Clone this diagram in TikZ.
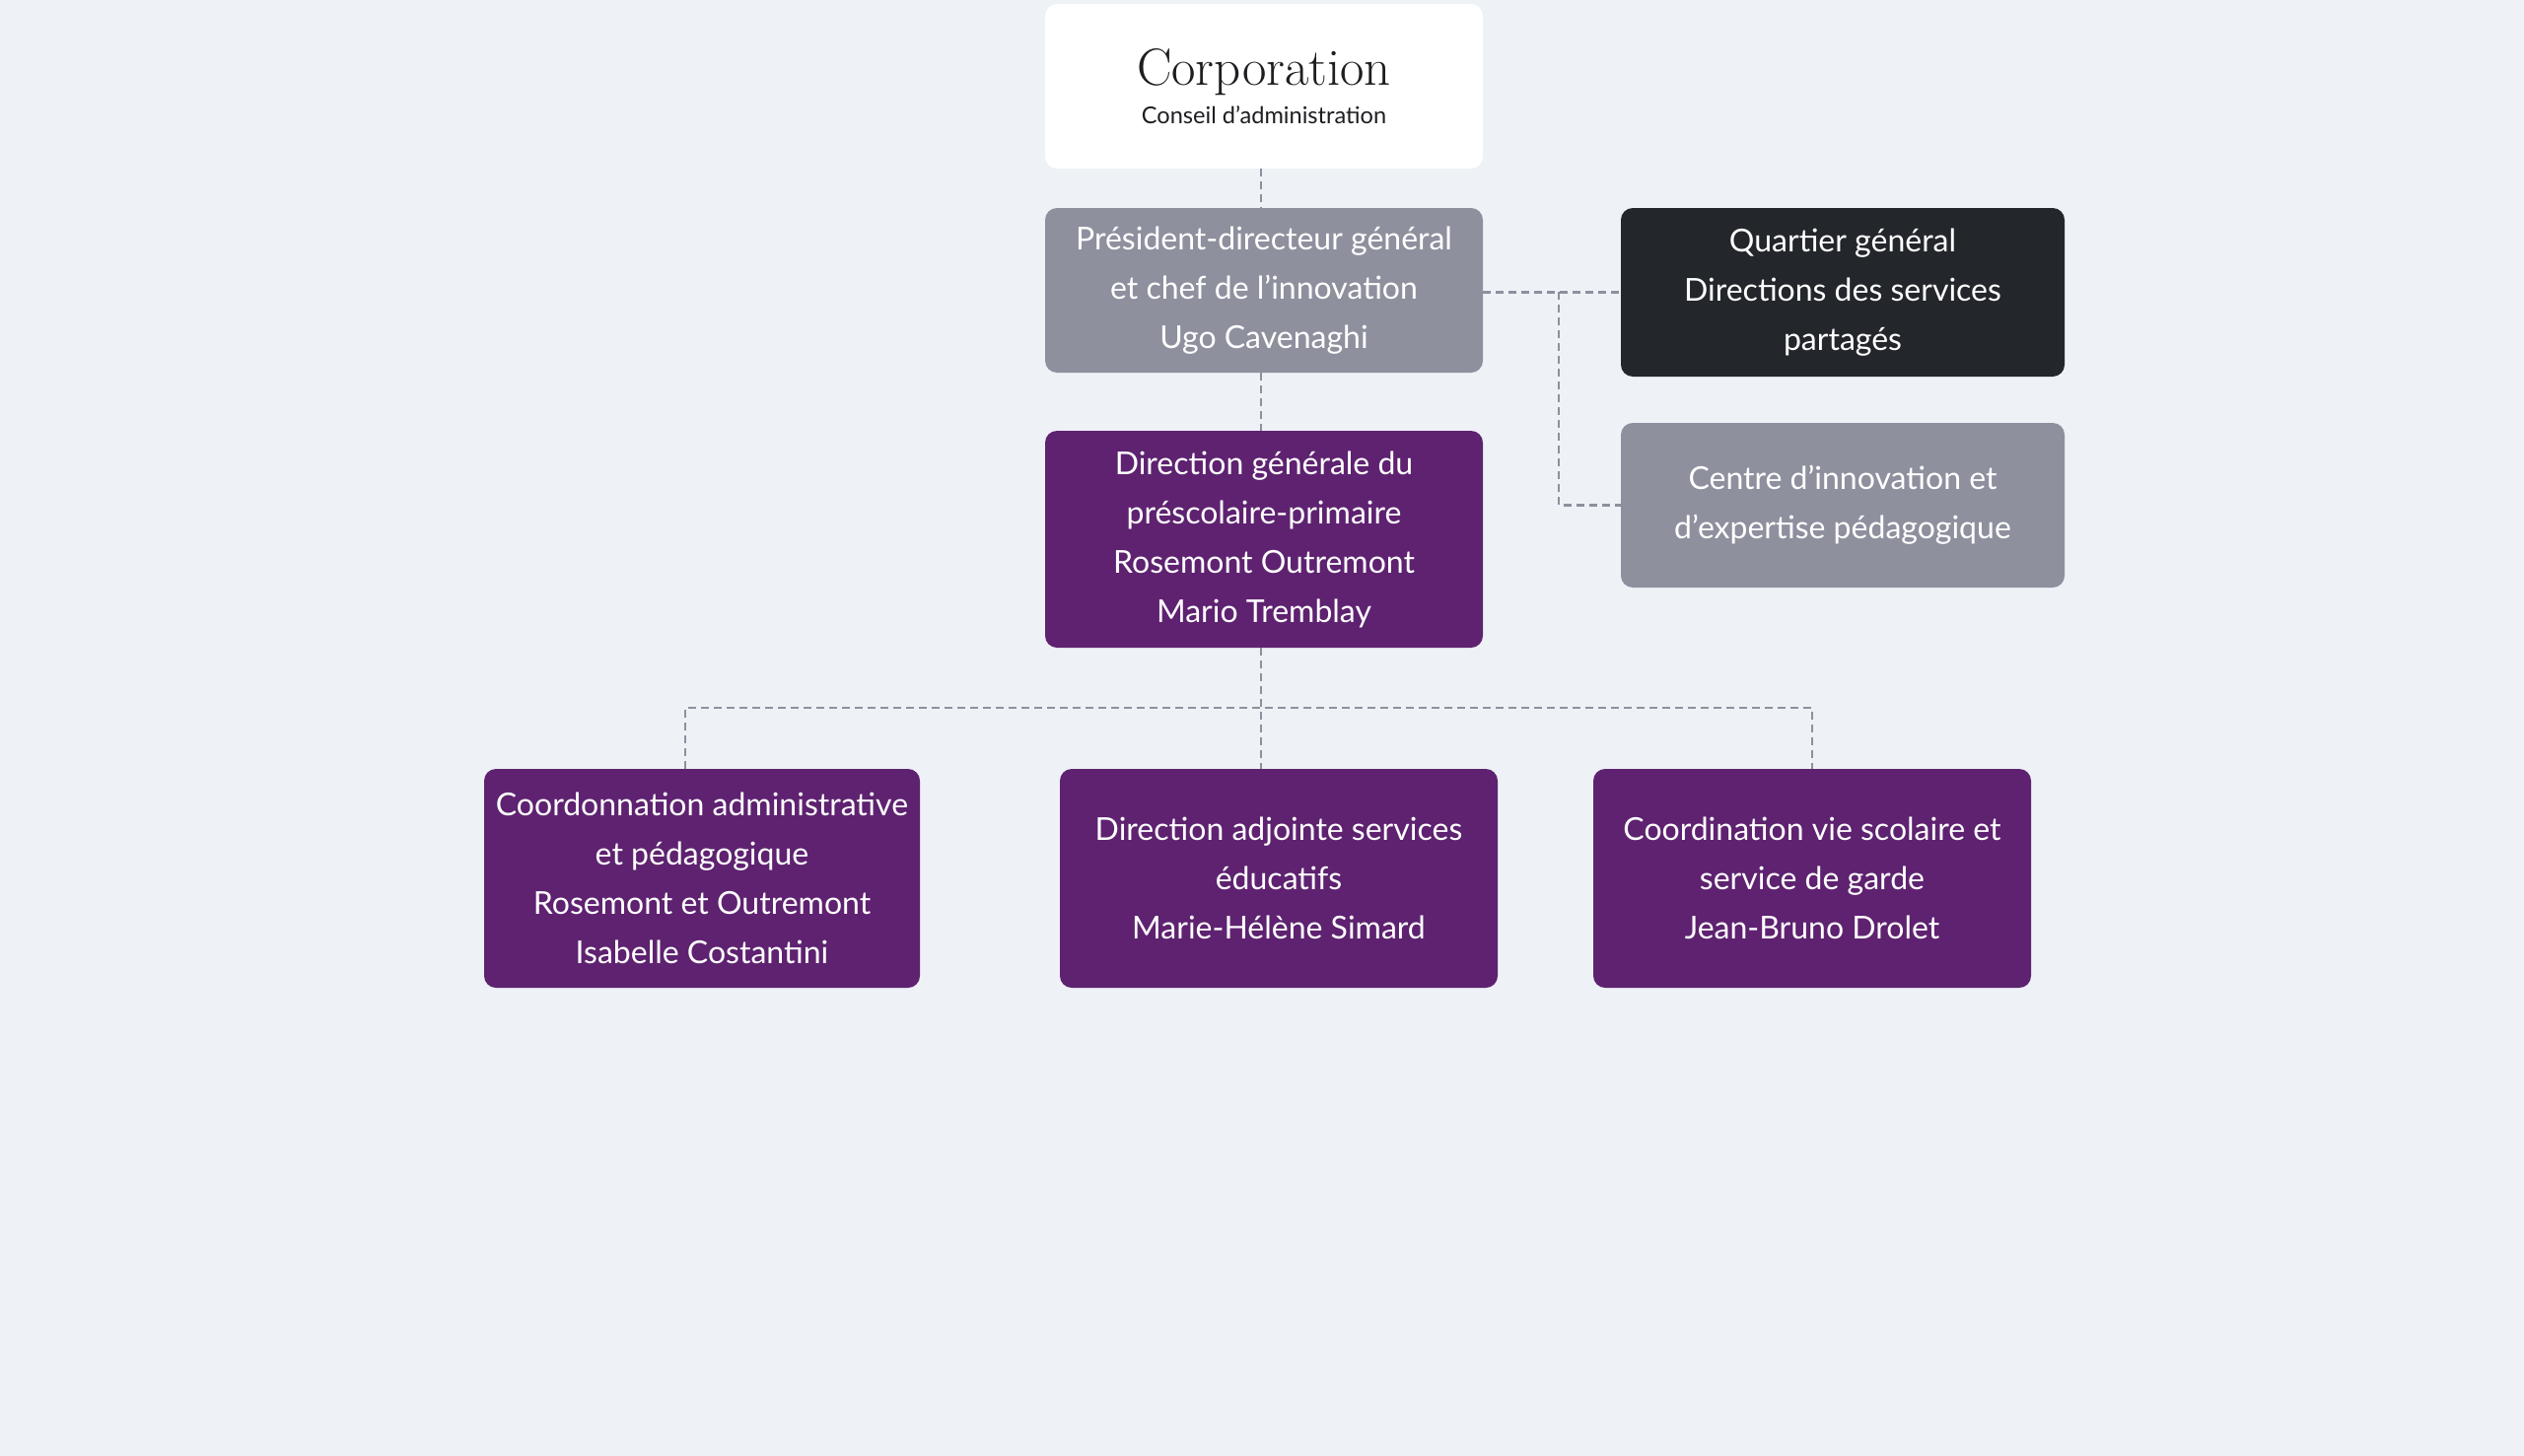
\documentclass[tikz,border=0pt]{standalone}
\usepackage{fontspec}
\setsansfont{Lato}
\usetikzlibrary{calc}
\definecolor{bg}{HTML}{EEF1F6}
\definecolor{gbox}{HTML}{8E909E}
\definecolor{dbox}{HTML}{23262B}
\definecolor{pbox}{HTML}{5E2270}
\definecolor{dashc}{HTML}{8E909E}
\definecolor{ink}{HTML}{1E1E22}
\begin{document}
\begin{tikzpicture}[x=0.5pt,y=-0.5pt,
  box/.style={rounded corners=6pt, inner sep=0pt, align=center, text=white,
    font=\sffamily\fontsize{16}{25}\selectfont},
  link/.style={draw=dashc, line width=1.2pt, dash pattern=on 4pt off 2.5pt}]
\fill[bg] (0,0) rectangle (2560,1477);
\useasboundingbox (0,0) rectangle (2560,1477);

\node[box, fill=white, text=ink, minimum width=222pt, minimum height=83.5pt] (corp) at (1282,87.5)
  {{\rmfamily\fontsize{26.5}{26}\selectfont Corporation}\\[-5.5pt]{\fontsize{11.8}{14}\selectfont Conseil d’administration}};
\node[box, fill=gbox, minimum width=222pt, minimum height=83.5pt] (pdg) at (1282,294.5)
  {Président-directeur général\\et chef de l’innovation\\Ugo Cavenaghi};
\node[box, fill=dbox, minimum width=225pt, minimum height=85.5pt] (qg) at (1869,296.5)
  {Quartier général\\Directions des services\\partagés};
\node[box, fill=gbox, minimum width=225pt, minimum height=83.5pt] (cip) at (1869,512.5)
  {Centre d’innovation et\\d’expertise pédagogique};
\node[box, fill=pbox, minimum width=222pt, minimum height=110pt] (dg) at (1282,547)
  {Direction générale du\\préscolaire-primaire\\Rosemont Outremont\\Mario Tremblay};
\node[box, fill=pbox, minimum width=221pt, minimum height=111pt] (bl) at (712,891)
  {Coordonnation administrative\\et pédagogique\\Rosemont et Outremont\\Isabelle Costantini};
\node[box, fill=pbox, minimum width=222pt, minimum height=111pt] (bm) at (1297,891)
  {Direction adjointe services\\éducatifs\\Marie-Hélène Simard};
\node[box, fill=pbox, minimum width=222pt, minimum height=111pt] (br) at (1838,891)
  {Coordination vie scolaire et\\service de garde\\Jean-Bruno Drolet};

\coordinate (bus) at (1279,718);
\coordinate (fork) at (1581,296);
\coordinate (corpS) at ($(corp.south)+(-3,0)$);
\coordinate (pdgN) at ($(pdg.north)+(-3,0)$);
\coordinate (pdgS) at ($(pdg.south)+(-3,0)$);
\coordinate (dgN) at ($(dg.north)+(-3,0)$);
\coordinate (dgS) at ($(dg.south)+(-3,0)$);
\coordinate (blN) at ($(bl.north)+(-17,0)$);

\draw[link] (corpS) -- (pdgN);
\draw[link] (pdgS) -- (dgN);
\draw[link] (pdg.east |- qg.west) -- (qg.west);
\draw[link] (fork) |- (cip.west);
\draw[link] (dgS) -- (dgS |- bm.north);
\draw[link] (blN) -- (blN |- bus) -- (br.north |- bus) -- (br.north);
\end{tikzpicture}
\end{document}
